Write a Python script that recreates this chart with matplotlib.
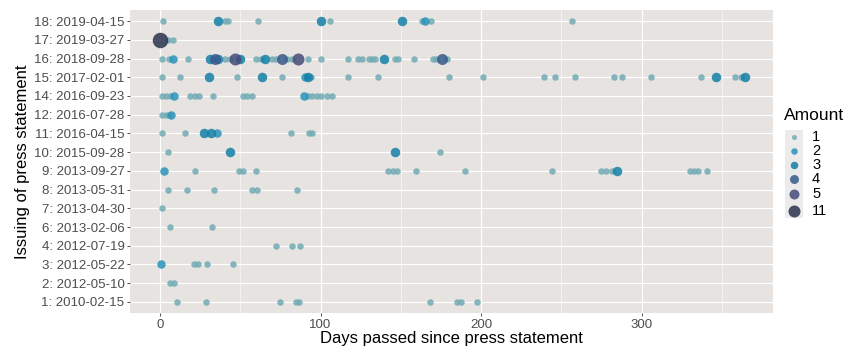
import matplotlib.pyplot as plt

plt.rcParams['font.family'] = ['Liberation Sans', 'DejaVu Sans']

# press statements, bottom to top
statement_labels = ['1: 2010-02-15', '2: 2012-05-10', '3: 2012-05-22', '4: 2012-07-19',
                    '6: 2013-02-06', '7: 2013-04-30', '8: 2013-05-31', '9: 2013-09-27',
                    '10: 2015-09-28', '11: 2016-04-15', '12: 2016-07-28', '14: 2016-09-23',
                    '15: 2017-02-01', '16: 2018-09-28', '17: 2019-03-27', '18: 2019-04-15']

# days passed for each statement (same order as labels)
days_passed = [
    [10.5, 28.5, 74.5, 85, 86.5, 168, 185, 187.5, 197.5],
    [6, 8.5],
    [0.5, 21, 23.5, 29.5, 45.5],
    [72.5, 82.5, 87.5],
    [6.5, 32.5],
    [1.5],
    [5, 17, 33.5, 57.5, 60.5, 85.5],
    [2.5, 21.5, 49.5, 52, 59.5, 142, 145, 147.5, 159.5, 190, 244.5, 275, 278, 281.5,
     284.5, 330, 332.5, 335, 341],
    [5, 43.5, 146.5, 174.5],
    [1.5, 15.5, 27.5, 31.5, 35.5, 81.5, 93, 94.5],
    [1.5, 3.5, 5.5, 7],
    [1, 3.5, 6, 9, 18.5, 21.5, 24.5, 33, 51.5, 54.5, 57.5, 89.5, 92, 94.5, 97.5, 100.5,
     104, 107],
    [1.5, 12.5, 30.5, 48, 63.5, 76, 90.5, 92, 94, 117, 136, 180, 201, 239.5, 246, 258.5,
     283, 288, 306, 337, 346.5, 358, 362, 364.5],
    [1.5, 5.5, 8, 17.6, 31, 34, 36, 40.5, 43.5, 46.5, 50, 60, 63, 65.5, 69.5, 72.5, 76,
     79, 82, 86, 92.5, 100.5, 117, 123.5, 126, 130, 132, 134, 139.5, 146.5, 148.5, 158.5,
     170, 172, 175.5, 179],
    [0, 5, 8],
    [2, 36, 40.5, 42.5, 61, 100, 106, 150.5, 163, 165, 169, 256.5],
]

amounts = [
    [1, 1, 1, 1, 1, 1, 1, 1, 1],
    [1, 1],
    [2, 1, 1, 1, 1],
    [1, 1, 1],
    [1, 1],
    [1],
    [1, 1, 1, 1, 1, 1],
    [2, 1, 1, 1, 1, 1, 1, 1, 1, 1, 1, 1, 1, 1, 3, 1, 1, 1, 1],
    [1, 3, 3, 1],
    [1, 1, 3, 3, 2, 1, 1, 1],
    [1, 1, 1, 2],
    [1, 1, 1, 2, 1, 1, 1, 1, 1, 1, 1, 2, 1, 1, 1, 1, 1, 1],
    [1, 1, 3, 1, 3, 1, 2, 3, 1, 1, 1, 1, 1, 1, 1, 1, 1, 1, 1, 1, 3, 1, 1, 3],
    [1, 1, 2, 1, 3, 4, 3, 1, 1, 5, 3, 1, 1, 3, 1, 1, 4, 1, 1, 5, 1, 1, 1, 1, 1, 1, 1, 1,
     3, 1, 1, 1, 1, 1, 4, 1],
    [11, 1, 1],
    [1, 3, 1, 1, 1, 3, 1, 3, 1, 2, 1, 1],
]

amount_levels = [1, 2, 3, 4, 5, 11]
level_colors = {1: '#72abb4', 2: '#2a93ba', 3: '#137fa7', 4: '#37598b', 5: '#454b78', 11: '#2b3150'}
level_px = {1: 6.5, 2: 8.5, 3: 9.5, 4: 11, 5: 12, 11: 15.5}


def px_to_s(d):
    return (d * 0.72) ** 2


W, H = 847, 349
fig = plt.figure(figsize=(W / 100, H / 100), dpi=100)
ax = fig.add_axes([130 / W, 1 - 313 / H, 643 / W, 303 / H])
ax.set_facecolor('#e6e3e0')
for s in ax.spines.values():
    s.set_visible(False)

# draw small amounts first so the big ones sit on top
for lvl in amount_levels:
    xs, ys = [], []
    for i, (dd, aa) in enumerate(zip(days_passed, amounts)):
        for d, a in zip(dd, aa):
            if a == lvl:
                xs.append(d)
                ys.append(i + 1)
    ax.scatter(xs, ys, s=px_to_s(level_px[lvl]), color=level_colors[lvl],
               alpha=0.85, linewidths=0, zorder=3 + lvl)

ax.set_xlim(-18.7, 381.9)
ax.set_ylim(0.41, len(statement_labels) + 0.59)
ax.set_xticks([0, 100, 200, 300])
ax.set_xticks([50, 150, 250, 350], minor=True)
ax.set_yticks(range(1, len(statement_labels) + 1))
ax.set_yticklabels(statement_labels)
ax.grid(which='major', color='white', lw=0.85, zorder=0)
ax.grid(which='minor', axis='x', color='white', lw=0.4, zorder=0)
ax.set_axisbelow(True)
ax.tick_params(which='major', length=2.5, width=0.6, color='#333333',
               labelsize=9.5, labelcolor='#4d4d4d', pad=1.5)
ax.tick_params(which='minor', length=0)
ax.set_xlabel('Days passed since press statement', fontsize=12, labelpad=0)
ax.set_ylabel('Issuing of press statement', fontsize=12, labelpad=3)

# legend drawn by hand, ggplot style
lax = fig.add_axes([785 / W, 1 - 218 / H, 18 / W, 88 / H])
lax.set_xlim(785, 803)
lax.set_ylim(218, 130)
lax.axis('off')
lax.add_patch(plt.Rectangle((785, 130), 18, 88, color='#ebebeb', zorder=0))
key_y = [137, 151, 165, 179, 194, 211]
legend_px = {1: 5, 2: 6.5, 3: 7.5, 4: 9, 5: 10, 11: 12}
for lvl, y in zip(amount_levels, key_y):
    lax.scatter([794], [y], s=px_to_s(legend_px[lvl]), color=level_colors[lvl],
                alpha=0.85, linewidths=0, zorder=2)
    fig.text(812 / W, 1 - y / H, str(lvl), fontsize=10.5, va='center', ha='left')
fig.text(784 / W, 1 - 115 / H, 'Amount', fontsize=12.5, va='center', ha='left')

fig.savefig('out.png', dpi=100)
